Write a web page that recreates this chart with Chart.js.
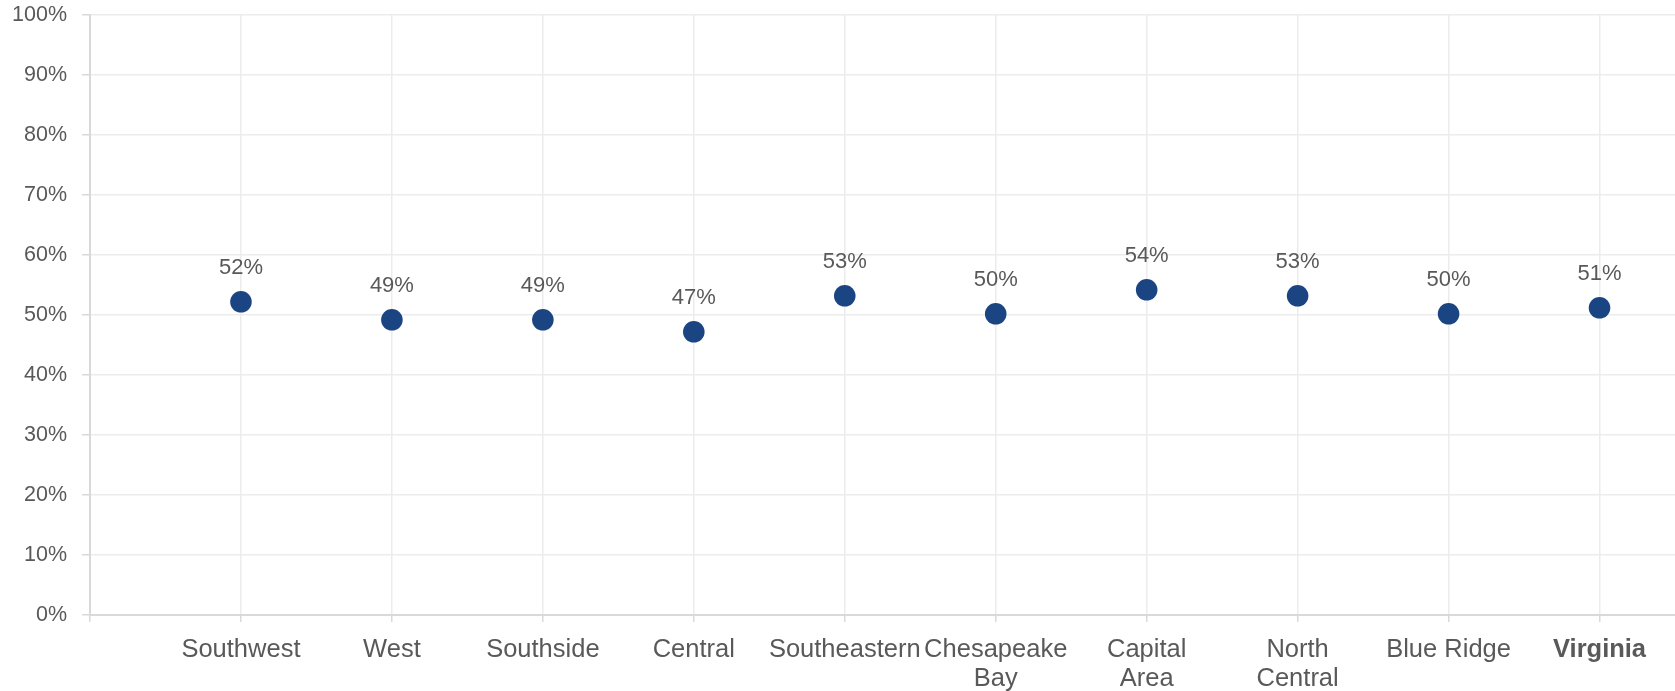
<!DOCTYPE html>
<html>
<head>
<meta charset="utf-8">
<script src="https://cdn.jsdelivr.net/npm/chart.js@4/dist/chart.umd.min.js"></script>
<style>
    body { margin: 0; background: #fff; }
    #wrap { width: 1675px; height: 691px; position: relative; }
</style>
</head>
<body>
<div id="wrap"><canvas id="chart"></canvas></div>
<script>
const regions = [
    "Southwest",
    "West",
    "Southside",
    "Central",
    "Southeastern",
    ["Chesapeake", "Bay"],
    ["Capital", "Area"],
    ["North", "Central"],
    "Blue Ridge",
    "Virginia"
];
const shares = [52.2, 49.2, 49.2, 47.2, 53.2, 50.2, 54.2, 53.2, 50.2, 51.2];
const yTicks = [0, 10, 20, 30, 40, 50, 60, 70, 80, 90, 100];

const textColor = "#595959";
const dotColor = "#1b4582";
const fontFamily = "'Liberation Sans', Arial, sans-serif";

// draws "52%" above each dot
const pointLabels = {
    id: "pointLabels",
    afterDatasetsDraw(chart) {
        const ctx = chart.ctx;
        const meta = chart.getDatasetMeta(0);
        ctx.save();
        ctx.font = "22px " + fontFamily;
        ctx.fillStyle = textColor;
        ctx.textAlign = "center";
        ctx.textBaseline = "alphabetic";
        meta.data.forEach((pt, i) => {
            ctx.fillText(Math.round(shares[i]) + "%", pt.x, pt.y - 28);
        });
        ctx.restore();
    }
};

const points = shares.map((v, i) => ({ x: i + 1, y: v }));

new Chart(document.getElementById("chart"), {
    type: "scatter",
    data: {
        datasets: [{
            data: points,
            backgroundColor: dotColor,
            borderColor: dotColor,
            borderWidth: 0,
            pointRadius: 10.8,
            pointHoverRadius: 10.8
        }]
    },
    options: {
        responsive: true,
        maintainAspectRatio: false,
        animation: false,
        layout: { autoPadding: false, padding: { top: 15, left: 0, right: 0, bottom: 0 } },
        plugins: {
            legend: { display: false },
            tooltip: { enabled: false }
        },
        scales: {
            x: {
                type: "linear",
                min: 0,
                max: 10.5,
                afterBuildTicks: (scale) => {
                    scale.ticks = [0, ...regions.map((r, i) => i + 1)].map((v) => ({ value: v }));
                },
                afterFit: (scale) => { scale.height = 76; },
                border: { color: "#d9d9d9", width: 2 },
                grid: {
                    color: "#ececec",
                    lineWidth: 1.5,
                    tickColor: "#d9d9d9",
                    tickLength: 7
                },
                ticks: {
                    autoSkip: false,
                    maxRotation: 0,
                    padding: 14,
                    color: textColor,
                    font: (c) => ({
                        family: fontFamily,
                        size: 25.5,
                        lineHeight: 1.13,
                        weight: c.tick && c.tick.value === regions.length ? "bold" : "normal"
                    }),
                    callback: (v) => v >= 1 ? regions[v - 1] : ""
                }
            },
            y: {
                min: 0,
                max: 100,
                afterBuildTicks: (scale) => {
                    scale.ticks = yTicks.map((v) => ({ value: v }));
                },
                afterFit: (scale) => {
                    scale.width = 90;
                    scale.paddingTop = 0;
                    scale.paddingBottom = 0;
                },
                border: { color: "#d9d9d9", width: 2 },
                grid: {
                    color: "#ececec",
                    lineWidth: 1.5,
                    tickColor: "#d9d9d9",
                    tickLength: 8
                },
                ticks: {
                    padding: 15,
                    color: textColor,
                    font: { family: fontFamily, size: 21.5 },
                    callback: (v) => v + "%"
                }
            }
        }
    },
    plugins: [pointLabels]
});
</script>
</body>
</html>
